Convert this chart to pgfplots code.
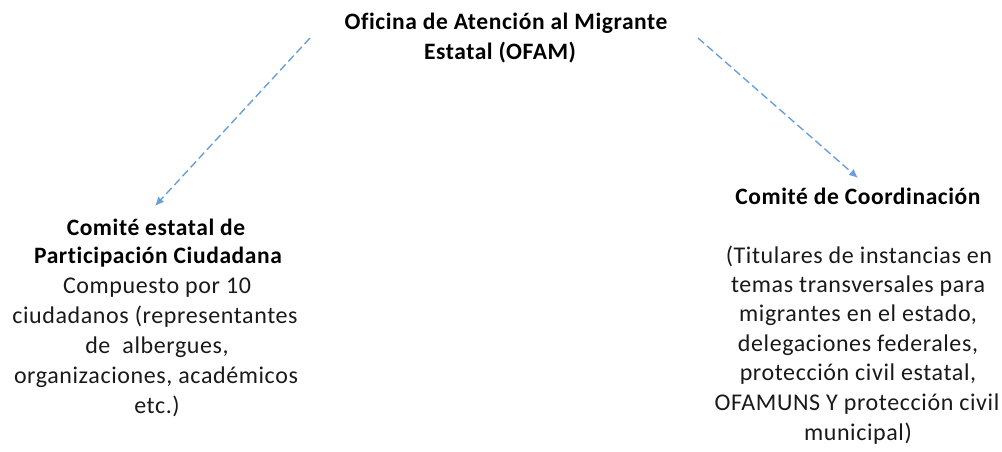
\documentclass[border=0pt]{standalone}
\usepackage{pgfplots}
\pgfplotsset{compat=1.18}
\usetikzlibrary{arrows.meta}
\usepackage{fontspec}
\setmainfont{Carlito}[Ligatures=NoCommon, LetterSpace=2.5]
\definecolor{arrowblue}{RGB}{105,160,218}
\definecolor{txt}{RGB}{25,25,25}

\tikzset{
    tn/.style={font=\fontsize{24}{29}\selectfont, text=txt, inner sep=0pt, anchor=base},
    tb/.style={font=\fontsize{23.5}{29}\selectfont\bfseries, text=black, inner sep=0pt, anchor=base},
}

\begin{document}
\begin{tikzpicture}
    \begin{axis}[
        width=1002pt,
        height=451pt,
        scale only axis,
        xmin=0, xmax=1002,
        ymin=0, ymax=451,
        y dir=reverse,
        hide axis,
        clip=false,
    ]
    % keep the full canvas as bounding box
    \addplot[draw=none] coordinates {(0,0) (1002,451)};

    % dashed arrows
    \addplot[arrowblue, line width=1.4pt, dash pattern=on 8pt off 4pt, -{Latex[length=9pt,width=8pt]}] coordinates {(310,38) (155,206)};
    \addplot[arrowblue, line width=1.4pt, dash pattern=on 8pt off 4pt, -{Latex[length=9pt,width=8pt]}] coordinates {(698,38) (858,178)};

    % top box
    \node[tb] at (axis cs:506,29) {Oficina de Atención al Migrante};
    \node[tb] at (axis cs:500,59) {Estatal (OFAM)};

    % left box
    \node[tb] at (axis cs:156,235) {Comité estatal de};
    \node[tb] at (axis cs:158,263) {Participación Ciudadana};
    \node[tn] at (axis cs:157,293) {Compuesto por 10};
    \node[tn] at (axis cs:155,323) {ciudadanos (representantes};
    \node[tn] at (axis cs:157,353) {de\ \ albergues,};
    \node[tn] at (axis cs:156,383) {organizaciones, académicos};
    \node[tn] at (axis cs:157,413) {etc.)};

    % right box
    \node[tb] at (axis cs:858,204) {Comité de Coordinación};
    \node[tn] at (axis cs:859,263) {(Titulares de instancias en};
    \node[tn] at (axis cs:858,292) {temas transversales para};
    \node[tn] at (axis cs:858,321) {migrantes en el estado,};
    \node[tn] at (axis cs:858,351) {delegaciones federales,};
    \node[tn] at (axis cs:858,380) {protección civil estatal,};
    \node[tn] at (axis cs:857,410) {OFAMUNS Y protección civil};
    \node[tn] at (axis cs:858,440) {municipal)};
    \end{axis}
\end{tikzpicture}
\end{document}
